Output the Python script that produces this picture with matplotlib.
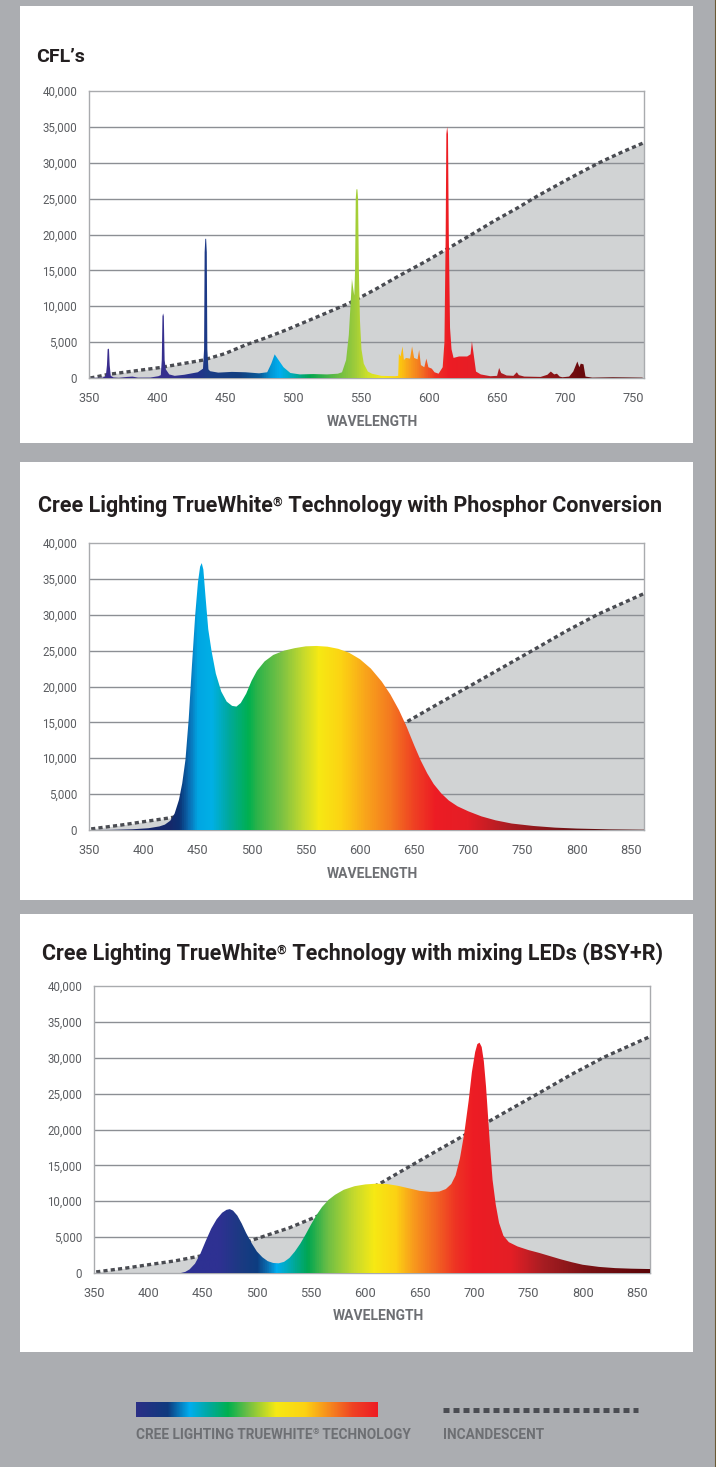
import numpy as np
import matplotlib
matplotlib.use("Agg")
from matplotlib import pyplot as plt
from matplotlib.colors import LinearSegmentedColormap
from matplotlib.patches import Rectangle, Polygon
from matplotlib.lines import Line2D

W, H = 716, 1467

# ---- data ----
# CFL spectrum
cfl_wl = [350, 360, 362.4, 363.2, 363.7, 364.2, 364.7, 365.2, 366, 368, 372, 378, 382, 386, 395, 401,
          402.8, 403.5, 404.0, 404.5, 405.0, 405.6, 406.5, 409, 413, 420, 430, 433.8, 434.6, 435.0,
          435.5, 436.1, 436.6, 437.0, 437.8, 439, 445, 455, 465, 475, 481, 484, 486.5, 489, 493, 498,
          505, 515, 525, 533, 536, 539, 541, 542.5, 543.3, 544.2, 545, 545.6, 546.1, 546.6, 547.3,
          547.8, 548.4, 549.2, 550.3, 552, 555, 558, 565, 575, 577.3, 577.8, 579, 580.5, 581.5, 583,
          586, 587.5, 589, 591.5, 592.7, 594, 596.5, 598, 599.5, 602, 604, 607, 610, 611.3, 612.2,
          612.7, 613.3, 613.9, 614.5, 615.4, 616.5, 618, 622, 628, 630.5, 631.5, 633, 634.5, 638,
          645, 650, 651.5, 653, 657, 662, 664.5, 666, 670, 682, 687, 689.5, 692, 694, 696, 698, 703,
          706, 709, 710.5, 711.5, 713.5, 715, 720, 735, 745, 757]
cfl_val = [0, 50, 300, 1800, 4000, 4100, 4000, 1800, 300, 80, 30, 150, 200, 50, 60, 250,
           400, 2500, 8600, 9000, 8600, 2500, 1200, 500, 300, 450, 800, 1300, 4000, 17500,
           19400, 19400, 17500, 4000, 1200, 950, 750, 850, 800, 650, 800, 2000, 3300, 2600, 1500, 700,
           500, 550, 500, 600, 800, 2500, 6000, 11000, 13800, 12500, 11500, 15000, 25000, 26300, 26300,
           25000, 15000, 8000, 4000, 2000, 900, 600, 300, 250, 300, 3400, 3000, 4400, 2500, 2800,
           2700, 4400, 2800, 2600, 3900, 1800, 1500, 2700, 1500, 1300, 800, 600, 1500, 5000, 20000,
           34000, 35000, 34000, 20000, 7000, 4000, 2800, 3000, 3000, 3300, 5100, 3000, 900, 500,
           250, 300, 1400, 700, 350, 300, 800, 400, 200, 150, 450, 900, 500, 600, 200, 100, 200,
           900, 2300, 1500, 2000, 1900, 200, 50, 100, 80, 50]
cfl_incand_wl = [351, 364, 380, 402, 434, 450, 465, 480, 495, 520, 541, 560, 578, 598, 617, 633, 648,
                 665, 680, 703, 725, 742, 758]
cfl_incand_val = [0, 500, 900, 1450, 2500, 3400, 4600, 5600, 6700, 8700, 10400, 12300, 14250, 16300,
                  18400, 20200, 21900, 23700, 25400, 27800, 30000, 31500, 32800]

# TrueWhite with phosphor conversion
phos_wl = [352, 370, 390, 405, 415, 420, 425, 429, 433, 436, 439, 442, 445, 448, 450.5, 452.5, 454,
           455.5, 457.5, 460, 463, 467, 472, 477, 482, 486, 490, 495, 500, 505, 512, 520, 530, 540,
           550, 560, 570, 580, 590, 600, 610, 620, 628, 636, 643, 650, 656, 662, 668, 675, 682, 690,
           700, 712, 725, 740, 760, 780, 800, 830, 862]
phos_val = [0, 20, 100, 250, 500, 750, 1300, 2300, 4200, 6500, 9800, 15500, 23000, 30000, 34500, 36700,
            37200, 36300, 32500, 28000, 25000, 21800, 19300, 17900, 17300, 17200, 17700, 19000, 20800,
            22200, 23500, 24400, 25000, 25350, 25600, 25650, 25550, 25250, 24700, 23800, 22500, 20700,
            18900, 16700, 14400, 11800, 9700, 7900, 6400, 5100, 4100, 3300, 2600, 1900, 1350, 900, 560,
            330, 200, 90, 40]

# TrueWhite with mixing LEDs (BSY+R)
mix_wl = [352, 430, 434, 438, 443, 448, 453, 458, 463, 468, 472, 475, 478, 482, 486, 490, 495, 500,
          505, 510, 515, 520, 525, 530, 535, 540, 545, 550, 555, 560, 566, 572, 580, 590, 600, 610,
          620, 630, 640, 650, 660, 668, 674, 679, 683, 687, 691, 695, 698, 701, 703, 705, 707, 709,
          711, 713, 715, 717, 720, 723, 727, 732, 740, 750, 760, 770, 780, 790, 800, 815, 830, 845, 862]
mix_val = [0, 0, 150, 500, 1300, 2700, 4500, 6200, 7500, 8400, 8800, 8900, 8700, 8000, 6900, 5600, 4200,
           3000, 2200, 1650, 1400, 1350, 1550, 2100, 3000, 4100, 5400, 6800, 8100, 9200, 10200, 10900,
           11600, 12100, 12350, 12450, 12400, 12150, 11800, 11450, 11300, 11350, 11700, 12400, 13600,
           16000, 19500, 24000, 28000, 30800, 31900, 32100, 31500, 29500, 26000, 21500, 17000, 13000,
           9500, 7000, 5200, 4300, 3700, 3200, 2800, 2350, 1900, 1500, 1150, 850, 680, 600, 550]

# incandescent reference for the two LED charts
led_incand_wl = [352, 380, 400, 425, 449, 475, 500, 530, 557, 585, 616, 640, 670, 704, 732, 760, 790,
                 820, 845, 862]
led_incand_val = [150, 700, 1150, 1700, 2400, 3500, 4800, 6300, 8000, 10200, 12700, 14800, 17400,
                  20300, 22700, 25100, 27700, 30100, 31800, 32950]

y_ticks = [0, 5000, 10000, 15000, 20000, 25000, 30000, 35000, 40000]
y_tick_labels = ["0", "5,000", "10,000", "15,000", "20,000", "25,000", "30,000", "35,000", "40,000"]
cfl_x_ticks = [350, 400, 450, 500, 550, 600, 650, 700, 750]
led_x_ticks = [350, 400, 450, 500, 550, 600, 650, 700, 750, 800, 850]

# spectral colour stops per chart (wavelength, colour)
cfl_stops = [(350, '#3c2d8e'), (410, '#35308f'), (430, '#22338a'), (437, '#1b3c86'), (460, '#133f80'),
             (475, '#0a5a99'), (484, '#0099d8'), (490, '#00aeef'), (500, '#00aab0'), (512, '#00a650'),
             (530, '#5cb947'), (545, '#9ccb3b'), (555, '#cde02a'), (566, '#f4e816'), (577, '#fdd20c'),
             (585, '#f9a31b'), (595, '#f36f21'), (605, '#ee3124'), (615, '#ed1c24'), (636, '#e51f26'),
             (648, '#b11f24'), (690, '#8e1518'), (712, '#6a0a0d'), (760, '#5a0a0a')]
phos_stops = [(350, '#1f2263'), (425, '#15296b'), (433, '#0b3274'), (442, '#0a6fb5'), (450, '#00a6e3'),
              (463, '#00b0e6'), (478, '#00a99f'), (497, '#00b04f'), (505, '#2db34a'), (528, '#7dc243'),
              (548, '#c7da2c'), (562, '#f6e914'), (583, '#fcd313'), (605, '#f9a51b'), (628, '#f47a20'),
              (650, '#ef4123'), (670, '#ed1c24'), (700, '#e41e26'), (740, '#a81d22'), (800, '#6a1114'),
              (862, '#5a0c0c')]
mix_stops = [(350, '#2e3192'), (465, '#2e3192'), (485, '#1b3a82'), (500, '#0d3d80'), (510, '#0a72b5'),
             (518, '#00aeef'), (532, '#00aaa5'), (547, '#00a651'), (565, '#6cbe45'), (590, '#c7da2c'),
             (608, '#f6e914'), (628, '#fcd213'), (645, '#f8991d'), (665, '#f26522'), (683, '#ee3424'),
             (700, '#ed1c24'), (735, '#e41f26'), (765, '#a61d22'), (805, '#7a1215'), (862, '#5a0407')]
legend_stops = [(0, '#2b2f86'), (0.13, '#0f3a7e'), (0.22, '#00aeef'), (0.3, '#00a99f'), (0.38, '#00b04f'),
                (0.46, '#6cbe45'), (0.58, '#f6e914'), (0.7, '#fcd213'), (0.82, '#f47b20'), (0.9, '#ef4123'),
                (1.0, '#ed1c24')]

BG = '#abadb1'
INC_FILL = '#d1d3d4'
DOTS = '#4a4c52'
GRID = '#8c8f94'
SPINE = '#a9abae'
TICK_TXT = '#5b5d61'
LABEL_TXT = '#6d6f73'

plt.rcParams['font.family'] = ['Roboto', 'DejaVu Sans']


def make_cmap(stops, lo, hi):
    pts = [(min(max((w - lo) / (hi - lo), 0), 1), c) for w, c in stops]
    if pts[0][0] > 0:
        pts.insert(0, (0.0, pts[0][1]))
    if pts[-1][0] < 1:
        pts.append((1.0, pts[-1][1]))
    return LinearSegmentedColormap.from_list("spec", pts)


def draw_runs(fig, x, y, runs, **kw):
    # draw text pieces one after the other (for the small raised ®)
    renderer = fig.canvas.get_renderer()
    for s, size, dy in runs:
        t = fig.text(x / W, 1 - (y - dy) / H, s, fontsize=size, ha="left", va="baseline", **kw)
        x += t.get_window_extent(renderer=renderer).width


def spectrum_chart(fig, rect, xlim, xticks, wl, val, inc_wl, inc_val, stops):
    l, t, r, b = rect
    ax = fig.add_axes([l / W, 1 - b / H, (r - l) / W, (b - t) / H])
    ax.set_facecolor('white')

    # incandescent area + dotted outline
    ax.fill_between(inc_wl, 0, inc_val, color=INC_FILL, lw=0, zorder=1)
    ax.plot(inc_wl, inc_val, color=DOTS, lw=2.4, ls=(0, (1.25, 0.95)), zorder=2,
            dash_capstyle='butt')

    # spectrum filled with a wavelength gradient
    cmap = make_cmap(stops, xlim[0], xlim[1])
    grad = cmap(np.linspace(0, 1, 1200))[None, :, :]
    im = ax.imshow(grad, extent=[xlim[0], xlim[1], 0, 40000], aspect='auto',
                   interpolation='bilinear', zorder=3)
    verts = list(zip(wl, val)) + [(wl[-1], 0), (wl[0], 0)]
    clip = Polygon(verts, closed=True, facecolor='none', edgecolor='none')
    ax.add_patch(clip)
    im.set_clip_path(clip)

    for yv in y_ticks[1:-1]:
        ax.axhline(yv, color=GRID, lw=1.0, zorder=1.5)

    ax.set_xlim(*xlim)
    ax.set_ylim(0, 40000)
    ax.set_yticks(y_ticks)
    ax.set_yticklabels(y_tick_labels)
    ax.set_xticks(xticks)
    ax.set_xticklabels([str(v) for v in xticks])
    ax.tick_params(axis='y', length=0, pad=8.5, labelsize=8.3, labelcolor=TICK_TXT)
    ax.tick_params(axis='x', length=0, pad=10, labelsize=9.2, labelcolor=TICK_TXT)
    for s in ax.spines.values():
        s.set_color(SPINE)
        s.set_linewidth(1.0)
    return ax


fig = plt.figure(figsize=(W / 100, H / 100), dpi=100)
fig.patch.set_facecolor(BG)

# white cards
for top, bot in [(6, 443), (462, 900), (914, 1352)]:
    fig.add_artist(Rectangle((20 / W, 1 - bot / H), 673 / W, (bot - top) / H,
                             transform=fig.transFigure, facecolor='white', edgecolor='none', zorder=0))
fig.add_artist(Line2D([714.5 / W] * 2, [0, 1], transform=fig.transFigure, color='#6b5a35', lw=0.8))

spectrum_chart(fig, (89, 91, 644, 378), (351.5, 758), cfl_x_ticks,
               cfl_wl, cfl_val, cfl_incand_wl, cfl_incand_val, cfl_stops)
spectrum_chart(fig, (89, 543, 644, 830), (352, 862), led_x_ticks,
               phos_wl, phos_val, led_incand_wl, led_incand_val, phos_stops)
spectrum_chart(fig, (94, 986, 650, 1273), (352, 862), led_x_ticks,
               mix_wl, mix_val, led_incand_wl, led_incand_val, mix_stops)

# titles
title_kw = dict(fontweight='bold', color='#231f20')
draw_runs(fig, 36, 62, [("CFL’s", 14, 0)], **title_kw)
draw_runs(fig, 38, 512, [("Cree Lighting TrueWhite", 15.5, 0), ("®", 9, 6),
                         (" Technology with Phosphor Conversion", 15.5, 0)], **title_kw)
draw_runs(fig, 42, 960, [("Cree Lighting TrueWhite", 15.5, 0), ("®", 9, 6),
                         (" Technology with mixing LEDs (BSY+R)", 15.5, 0)], **title_kw)

# axis titles
for cx, by in [(372, 426), (372, 878), (378, 1320)]:
    fig.text(cx / W, 1 - by / H, "WAVELENGTH", fontsize=10, fontweight='bold',
             color=LABEL_TXT, ha='center', va='baseline')

# legend
ax_leg = fig.add_axes([136 / W, 1 - 1417 / H, 242 / W, 15 / H])
leg_cmap = LinearSegmentedColormap.from_list("leg", legend_stops)
ax_leg.imshow(leg_cmap(np.linspace(0, 1, 600))[None, :, :], aspect='auto', extent=[0, 1, 0, 1])
ax_leg.axis('off')
fig.add_artist(Line2D([443 / W, 638 / W], [1 - 1409.5 / H] * 2, transform=fig.transFigure,
                      color=DOTS, lw=3.6, ls=(0, (1.2, 0.8)), dash_capstyle='butt'))
leg_kw = dict(fontweight='bold', color=LABEL_TXT)
draw_runs(fig, 136, 1439, [("CREE LIGHTING TRUEWHITE", 9.8, 0), ("®", 6, 4.5),
                           (" TECHNOLOGY", 9.8, 0)], **leg_kw)
draw_runs(fig, 443, 1439, [("INCANDESCENT", 9.8, 0)], **leg_kw)

fig.savefig("out.png", dpi=100, facecolor=fig.get_facecolor())
